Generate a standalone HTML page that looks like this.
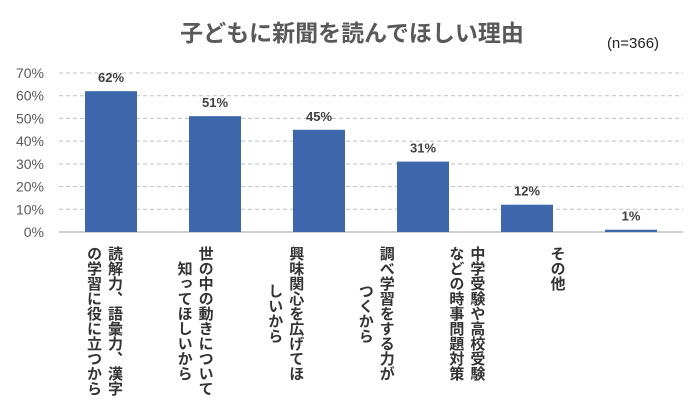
<!DOCTYPE html>
<html><head><meta charset="utf-8"><style>
body{margin:0;background:#fff;}
svg{display:block;font-family:"Liberation Sans","Noto Sans CJK JP",sans-serif;}
</style></head><body>
<svg id="c" width="700" height="418">
<text x="352" y="41" text-anchor="middle" font-size="23" font-weight="bold" fill="#595959">子どもに新聞を読んでほしい理由</text>
<text x="633" y="48" text-anchor="middle" font-size="15" fill="#222">(n=366)</text>
<g id="grid"></g><g id="bars"></g><g id="labels"></g>
</svg>
<script>
const categories=[["読解力、語彙力、漢字","の学習に役に立つから"],["世の中の動きについて","知ってほしいから"],["興味関心を広げてほ","しいから"],["調べ学習をする力が","つくから"],["中学受験や高校受験","などの時事問題対策"],["その他"]];
const values=[62,51,45,31,12,1];
const ticks=[0,10,20,30,40,50,60,70];
const NS="http://www.w3.org/2000/svg";
const y0=232,pxPer=159/70,left=59,step=104,barW=52;
const y=v=>y0-v*pxPer;
const xc=i=>left+step*i+step/2;
function mk(t,a,p,txt){const e=document.createElementNS(NS,t);for(const k in a)e.setAttribute(k,a[k]);if(txt!=null)e.textContent=txt;p.appendChild(e);return e;}
const g=document.getElementById('grid'),b=document.getElementById('bars'),l=document.getElementById('labels');
ticks.forEach(t=>{
 if(t>0){const ln=mk('line',{x1:left,x2:683,y1:y(t),y2:y(t),stroke:'#bfbfbf','stroke-dasharray':'4,3'},g);
 }
 const tx=mk('text',{x:44,y:y(t)+5,'text-anchor':'end','font-size':14,fill:'#595959'},g,t+'%');
 
});
const ax=mk('line',{x1:left,x2:683,y1:y0,y2:y0,stroke:'#bfbfbf','stroke-width':1.5},g);

values.forEach((v,i)=>{
 const r=mk('rect',{x:xc(i)-barW/2,y:y(v),width:barW,height:v*pxPer,fill:'#3d67aa'},b);
 
 const t=mk('text',{x:xc(i),y:y(v)-9,'text-anchor':'middle','font-size':13,'font-weight':'bold',fill:'#404040'},b,v+'%');
 
});
categories.forEach((lines,i)=>{
 const cx=104+i*90.6;
 const n=lines.length;
 const maxLen=Math.max(...lines.map(s=>s.length));
 const midY=246+maxLen*15/2;
 lines.forEach((s,j)=>{
  const x=cx+(n-1)*10.5-j*21;
  const t=mk('text',{x:x,y:midY,'text-anchor':'middle','font-size':15,'font-weight':'bold',fill:'#333',style:'writing-mode:vertical-rl;text-orientation:upright;','dominant-baseline':'central'},l,s);
  
 });
});
</script>
</body></html>
